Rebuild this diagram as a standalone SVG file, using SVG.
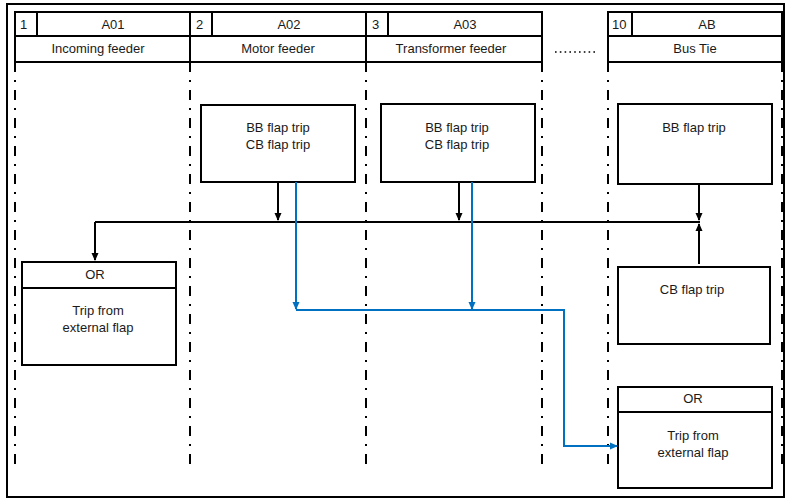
<svg xmlns="http://www.w3.org/2000/svg" width="787" height="500" viewBox="0 0 787 500">
<defs>
<marker id="ab" markerWidth="8" markerHeight="8" refX="7" refY="4" orient="auto" markerUnits="userSpaceOnUse"><path d="M0,0.5 L8,4 L0,7.5 Z" fill="#000"/></marker>
<marker id="ablue" markerWidth="8" markerHeight="8" refX="7" refY="4" orient="auto" markerUnits="userSpaceOnUse"><path d="M0,0.5 L8,4 L0,7.5 Z" fill="#0070C0"/></marker>
</defs>
<style>
.b{fill:#fff;stroke:#000;stroke-width:2}
.t{font-family:"Liberation Sans",Arial,sans-serif;font-size:13px;fill:#1a1a1a;text-anchor:middle}
.tl{font-family:"Liberation Sans",Arial,sans-serif;font-size:13px;fill:#1a1a1a}
.dd{stroke:#000;stroke-width:2;stroke-dasharray:10 8 2 8;fill:none}
.c{stroke:#000;stroke-width:2;fill:none}
.cb{stroke:#0070C0;stroke-width:2;fill:none}
</style>
<rect x="0" y="0" width="787" height="500" fill="#fff"/>
<rect x="7" y="4" width="777" height="493" fill="none" stroke="#000" stroke-width="2"/>
<g id="lanes">
<line class="dd" x1="15" y1="62" x2="15" y2="472"/>
<line class="dd" x1="190" y1="62" x2="190" y2="472"/>
<line class="dd" x1="366" y1="62" x2="366" y2="472"/>
<line class="dd" x1="542" y1="62" x2="542" y2="472"/>
<line class="dd" x1="608" y1="62" x2="608" y2="472"/>
<line class="dd" x1="782" y1="62" x2="782" y2="472"/>
<line x1="555" y1="52" x2="598" y2="52" stroke="#000" stroke-width="1.6" stroke-dasharray="1.6 3.2"/>
</g>
<g id="h1">
<rect class="b" x="15" y="12" width="175" height="24"/><line class="c" x1="37" y1="12" x2="37" y2="36"/>
<rect class="b" x="15" y="36" width="175" height="26"/>
<text class="tl" x="20" y="29">1</text><text class="t" x="113" y="29">A01</text>
<text class="t" x="98" y="53">Incoming feeder</text>
</g>
<g id="h2">
<rect class="b" x="190" y="12" width="176" height="24"/><line class="c" x1="212" y1="12" x2="212" y2="36"/>
<rect class="b" x="190" y="36" width="176" height="26"/>
<text class="tl" x="196" y="29">2</text><text class="t" x="289" y="29">A02</text>
<text class="t" x="278" y="53">Motor feeder</text>
</g>
<g id="h3">
<rect class="b" x="366" y="12" width="176" height="24"/><line class="c" x1="388" y1="12" x2="388" y2="36"/>
<rect class="b" x="366" y="36" width="176" height="26"/>
<text class="tl" x="372" y="29">3</text><text class="t" x="465" y="29">A03</text>
<text class="t" x="451" y="53">Transformer feeder</text>
</g>
<g id="h10">
<rect class="b" x="608" y="12" width="174" height="24"/><line class="c" x1="632" y1="12" x2="632" y2="36"/>
<rect class="b" x="608" y="36" width="174" height="26"/>
<text class="tl" x="612" y="29">10</text><text class="t" x="707" y="29">AB</text>
<text class="t" x="695" y="53">Bus Tie</text>
</g>
<g id="n_a02">
<rect class="b" x="201" y="105" width="154" height="77"/>
<text class="t" x="278" y="132">BB flap trip</text><text class="t" x="278" y="149">CB flap trip</text>
</g>
<g id="n_a03">
<rect class="b" x="381" y="104" width="154" height="78"/>
<text class="t" x="457" y="132">BB flap trip</text><text class="t" x="457" y="149">CB flap trip</text>
</g>
<g id="n_ab_bb">
<rect class="b" x="618" y="104" width="154" height="80"/>
<text class="t" x="694" y="132">BB flap trip</text>
</g>
<g id="n_ab_cb">
<rect class="b" x="618" y="267" width="152" height="77"/>
<text class="t" x="692" y="294">CB flap trip</text>
</g>
<g id="n_a01_or">
<rect class="b" x="22" y="262" width="154" height="26"/>
<rect class="b" x="22" y="288" width="154" height="77"/>
<text class="t" x="95" y="279">OR</text>
<text class="t" x="98" y="315">Trip from</text><text class="t" x="98" y="332">external flap</text>
</g>
<g id="n_ab_or">
<rect class="b" x="618" y="387" width="154" height="25"/>
<rect class="b" x="618" y="412" width="154" height="76"/>
<text class="t" x="693" y="403">OR</text>
<text class="t" x="693" y="440">Trip from</text><text class="t" x="693" y="457">external flap</text>
</g>
<g id="connectors">
<line class="c" x1="95" y1="222" x2="700" y2="222"/>
<path class="c" d="M95,222 V260" marker-end="url(#ab)"/>
<path class="c" d="M278,182 V220" marker-end="url(#ab)"/>
<path class="c" d="M459,182 V220" marker-end="url(#ab)"/>
<path class="c" d="M699,184 V220" marker-end="url(#ab)"/>
<path class="c" d="M699,264 V224" marker-end="url(#ab)"/>
<path class="cb" d="M296,182 V309" marker-end="url(#ablue)"/>
<path class="cb" d="M472,182 V309" marker-end="url(#ablue)"/>
<path class="cb" d="M296,310 H564 V446 H617" marker-end="url(#ablue)"/>
</g>
</svg>
